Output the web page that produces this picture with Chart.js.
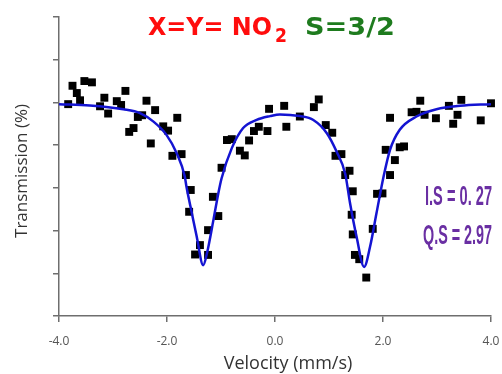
<!DOCTYPE html>
<html>
<head>
<meta charset="utf-8">
<script src="https://cdn.jsdelivr.net/npm/chart.js@4.4.1/dist/chart.umd.min.js"></script>
<style>
  html, body { margin: 0; padding: 0; background: #fff; }
  #wrap { width: 502px; height: 374px; }
</style>
</head>
<body>
<div id="wrap"><canvas id="spectrumCanvas"></canvas></div>
<script>
// measured points (velocity mm/s, relative transmission)
const velocity = [
  -3.83, -3.75, -3.67, -3.61, -3.53, -3.39, -3.24, -3.16, -3.09, -2.93,
  -2.85, -2.77, -2.70, -2.62, -2.54, -2.46, -2.38, -2.30, -2.22, -2.07,
  -1.98, -1.90, -1.81, -1.73, -1.65, -1.59, -1.56, -1.48, -1.39, -1.24,
  -1.24, -1.15, -1.05, -0.99, -0.89, -0.80, -0.65, -0.56, -0.48, -0.39,
  -0.30, -0.14, -0.11, 0.17, 0.21, 0.46, 0.72, 0.81, 0.94, 1.06,
  1.12, 1.23, 1.30, 1.38, 1.44, 1.42, 1.44, 1.48, 1.56, 1.69,
  1.81, 1.89, 1.99, 2.05, 2.13, 2.22, 2.31, 2.39, 2.13, 2.53,
  2.62, 2.69, 2.77, 2.98, 3.22, 3.30, 3.38, 3.45, 3.81, 4.00
];
const transmission = [
  4.96, 5.39, 5.22, 5.05, 5.50, 5.47, 4.91, 5.11, 4.74, 5.03,
  4.94, 5.27, 4.31, 4.40, 4.66, 4.70, 5.04, 4.04, 4.82, 4.44,
  4.34, 3.75, 4.64, 3.79, 3.30, 2.44, 2.95, 1.44, 1.66, 1.43,
  2.01, 2.79, 2.34, 3.47, 4.12, 4.14, 3.87, 3.76, 4.11, 4.33,
  4.43, 4.33, 4.85, 4.92, 4.43, 4.67, 4.89, 5.07, 4.47, 4.29,
  3.75, 3.79, 3.30, 3.40, 2.92, 2.37, 1.91, 1.43, 1.33, 0.90,
  2.04, 2.86, 2.87, 3.89, 3.30, 3.65, 3.95, 3.97, 4.64, 4.77,
  4.78, 5.04, 4.71, 4.63, 4.92, 4.50, 4.71, 5.06, 4.58, 4.98
];

// fitted curve
const fitVelocity = [
  -4.00, -3.43, -2.81, -2.50, -2.25, -2.01, -1.82, -1.67, -1.64, -1.54,
  -1.45, -1.33, -1.26, -1.14, -1.05, -0.99, -0.80, -0.59, -0.34, -0.09,
  0.09, 0.46, 0.71, 0.96, 1.14, 1.30, 1.39, 1.51, 1.65, 1.76,
  1.88, 2.01, 2.13, 2.31, 2.62, 2.99, 3.43, 4.00
];
const fitTransmission = [
  4.96, 4.93, 4.84, 4.75, 4.55, 4.24, 3.81, 3.26, 3.03, 2.41,
  1.86, 1.19, 1.47, 2.25, 2.87, 3.22, 3.93, 4.40, 4.59, 4.68,
  4.72, 4.68, 4.59, 4.28, 3.85, 3.33, 2.64, 1.86, 1.15, 1.62,
  2.41, 3.26, 3.89, 4.36, 4.67, 4.84, 4.92, 4.96
];

const xTicks = [-4, -2, 0, 2, 4];
const yTicks = [0, 1, 2, 3, 4, 5, 6, 7];

const titleRed = 'X=Y= NO';
const titleSub = '2';
const titleGreen = 'S=3/2';
const isoShift = 'I.S = 0. 27';
const quadSplit = 'Q.S = 2.97';
const xTitle = 'Velocity (mm/s)';
const yTitle = 'Transmission (%)';

const points = velocity.map((v, i) => ({ x: v, y: transmission[i] }));
const fitLine = fitVelocity.map((v, i) => ({ x: v, y: fitTransmission[i] }));

// text squeezed/stretched to a given width
function fitText(ctx, text, x, y, w, font, color) {
  ctx.save();
  ctx.font = font;
  ctx.fillStyle = color;
  ctx.textBaseline = 'alphabetic';
  ctx.textAlign = 'left';
  const m = ctx.measureText(text).width;
  ctx.translate(x, y);
  ctx.scale(w / m, 1);
  ctx.fillText(text, 0, 0);
  ctx.restore();
}

const labelsPlugin = {
  id: 'labels',
  afterDraw(chart) {
    const ctx = chart.ctx;
    fitText(ctx, titleRed, 148, 35, 124, 'bold 25px "DejaVu Sans"', '#ff0d0d');
    fitText(ctx, titleSub, 275, 42, 12, 'bold 19px "DejaVu Sans"', '#ff0d0d');
    fitText(ctx, titleGreen, 305, 35, 90, 'bold 25px "DejaVu Sans"', '#1e7b1e');
    fitText(ctx, isoShift, 425, 205, 67, 'bold 28px "Liberation Sans"', '#6a2fa3');
    fitText(ctx, quadSplit, 423, 244, 69, 'bold 28px "Liberation Sans"', '#6a2fa3');

    // axis titles
    ctx.save();
    ctx.fillStyle = '#333';
    ctx.font = '18px "Open Sans"';
    ctx.textAlign = 'center';
    ctx.textBaseline = 'middle';
    ctx.fillText(xTitle, 288, 364);
    ctx.translate(22, 171);
    ctx.rotate(-Math.PI / 2);
    ctx.font = '17px "Open Sans"';
    ctx.fillText(yTitle, 0, 0);
    ctx.restore();
  }
};

const spectrumCanvas = document.getElementById('spectrumCanvas');

const spectrumChart = new Chart(spectrumCanvas, {
  type: 'scatter',
  data: {
    datasets: [
      {
        type: 'line',
        data: fitLine,
        borderColor: '#1414d2',
        borderWidth: 2.5,
        pointRadius: 0,
        cubicInterpolationMode: 'monotone',
        fill: false
      },
      {
        data: points,
        pointStyle: 'rect',
        pointRadius: 5.6,
        pointHoverRadius: 5.6,
        backgroundColor: '#000',
        borderWidth: 0,
        clip: false
      }
    ]
  },
  plugins: [labelsPlugin],
  options: {
    responsive: true,
    maintainAspectRatio: false,
    animation: false,
    events: [],
    layout: { padding: { top: 17, right: 11, left: 0, bottom: 0 } },
    plugins: {
      legend: { display: false },
      tooltip: { enabled: false }
    },
    scales: {
      x: {
        type: 'linear',
        min: -4,
        max: 4,
        afterBuildTicks: (scale) => { scale.ticks = xTicks.map(v => ({ value: v })); },
        afterFit: (scale) => {
          scale.height = 58;
          scale.paddingLeft = 0;
          scale.paddingRight = 0;
        },
        border: { display: true, color: '#6e6e6e', width: 1.5 },
        grid: { drawOnChartArea: false, drawTicks: true, tickLength: 6, color: '#6e6e6e', lineWidth: 1.5 },
        ticks: {
          padding: 12,
          maxRotation: 0,
          autoSkip: false,
          color: '#555',
          font: { family: '"Open Sans"', size: 12 },
          callback: (v) => Number(v).toFixed(1)
        }
      },
      y: {
        type: 'linear',
        min: 0,
        max: 7,
        afterBuildTicks: (scale) => { scale.ticks = yTicks.map(v => ({ value: v })); },
        afterFit: (scale) => { scale.width = 59; },
        border: { display: true, color: '#6e6e6e', width: 1.5 },
        grid: { drawOnChartArea: false, drawTicks: true, tickLength: 6, color: '#6e6e6e', lineWidth: 1.5 },
        ticks: { display: false }
      }
    }
  }
});
</script>
</body>
</html>
